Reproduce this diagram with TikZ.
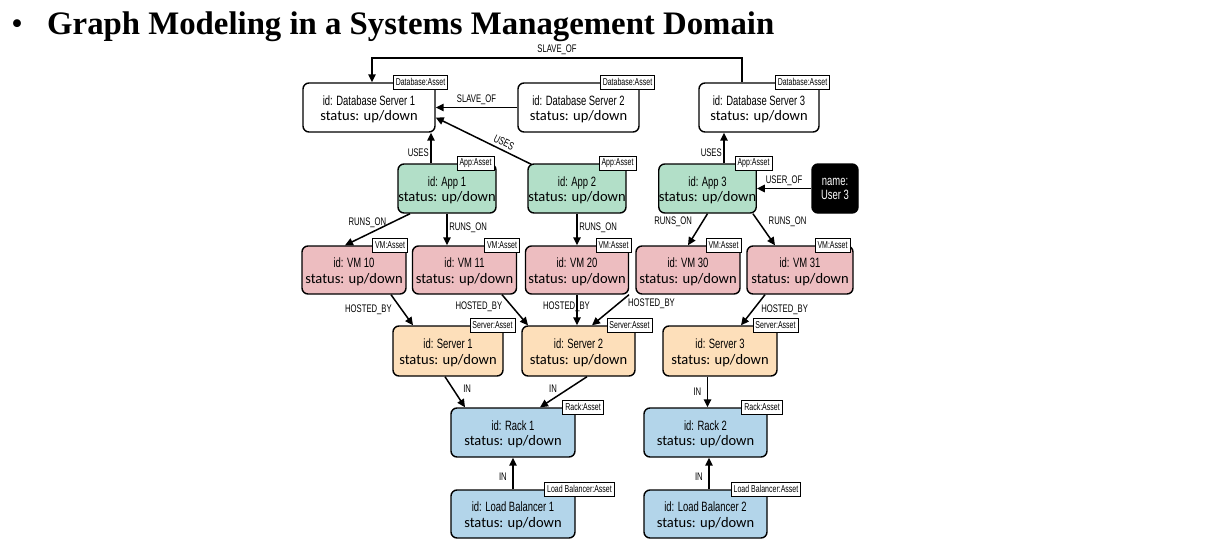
\documentclass[tikz,border=0pt]{standalone}
\usepackage{fontspec}
\setmainfont{Liberation Serif}
\newfontfamily\condf[FakeStretch=0.7]{Liberation Sans}
\newfontfamily\calf{Carlito}
\usetikzlibrary{arrows.meta,calc}
\definecolor{appc}{RGB}{178,223,200}
\definecolor{vmc}{RGB}{237,189,192}
\definecolor{srvc}{RGB}{253,223,186}
\definecolor{bluc}{RGB}{179,213,234}
\newcommand{\stf}{\calf\fontsize{14.5pt}{15.5pt}\selectfont}
\newcommand{\idf}{\condf\fontsize{13.5pt}{15.5pt}\selectfont\rule{0pt}{13.5pt}}
\newcommand{\lblf}{\condf\fontsize{11pt}{13pt}\selectfont}
\newcommand{\tagf}{\condf\fontsize{10pt}{12pt}\selectfont}
\newcommand{\usrf}{\condf\fontsize{13.5pt}{14pt}\selectfont}
\tikzset{
 box/.style={draw, line width=1.4pt, rounded corners=6pt, minimum height=49pt, inner sep=0pt, align=center, font=\stf},
 tagbox/.style={draw, line width=0.9pt, fill=white, inner xsep=2.5pt, inner ysep=2pt, minimum height=14.5pt, font=\tagf},
 arr/.style={line width=1.5pt, -{Triangle[length=8pt,width=7.5pt]}},
 lbl/.style={font=\lblf, inner sep=1.5pt},
}
\begin{document}
\begin{tikzpicture}[x=1pt,y=-1pt]
\path[use as bounding box] (0,0) rectangle (1219,551);
\node[anchor=base west, inner sep=0pt, font=\fontsize{32.8pt}{38pt}\selectfont\bfseries] (title) at (47,35) {Graph Modeling in a Systems Management Domain};
\node[anchor=base, inner sep=0pt, font=\fontsize{32.8pt}{38pt}\selectfont] (bullet) at (17,35) {•};

% database row
\node[box, fill=white, minimum width=132pt] (db1) at (369,107.5) {{\idf id: Database Server 1}\\status: up/down};
\node[box, fill=white, minimum width=121pt] (db2) at (578.5,107.5) {{\idf id: Database Server 2}\\status: up/down};
\node[box, fill=white, minimum width=120pt] (db3) at (759,107.5) {{\idf id: Database Server 3}\\status: up/down};
% app row
\node[box, fill=appc, minimum width=98pt] (app1) at (447,188.5) {{\idf id: App 1}\\status: up/down};
\node[box, fill=appc, minimum width=98pt] (app2) at (577,188.5) {{\idf id: App 2}\\status: up/down};
\node[box, fill=appc, minimum width=97pt] (app3) at (707.5,188.5) {{\idf id: App 3}\\status: up/down};
\node[box, fill=black, text=white, minimum width=46pt, font=\usrf] (user3) at (835,188.5) {name:\\User 3};
% vm row
\node[box, fill=vmc, minimum width=104pt, minimum height=48pt] (vm10) at (354,270) {{\idf id: VM 10}\\status: up/down};
\node[box, fill=vmc, minimum width=104pt, minimum height=48pt] (vm11) at (464.5,270) {{\idf id: VM 11}\\status: up/down};
\node[box, fill=vmc, minimum width=103pt, minimum height=48pt] (vm20) at (577,270) {{\idf id: VM 20}\\status: up/down};
\node[box, fill=vmc, minimum width=104pt, minimum height=48pt] (vm30) at (688,270) {{\idf id: VM 30}\\status: up/down};
\node[box, fill=vmc, minimum width=106pt, minimum height=48pt] (vm31) at (800,270) {{\idf id: VM 31}\\status: up/down};
% server row
\node[box, fill=srvc, minimum width=110pt, minimum height=50pt] (s1) at (448,351) {{\idf id: Server 1}\\status: up/down};
\node[box, fill=srvc, minimum width=113pt, minimum height=50pt] (s2) at (578.5,351) {{\idf id: Server 2}\\status: up/down};
\node[box, fill=srvc, minimum width=114pt, minimum height=50pt] (s3) at (720,351) {{\idf id: Server 3}\\status: up/down};
% rack row
\node[box, fill=bluc, minimum width=124pt] (r1) at (513,432.5) {{\idf id: Rack 1}\\status: up/down};
\node[box, fill=bluc, minimum width=123pt] (r2) at (705.5,432.5) {{\idf id: Rack 2}\\status: up/down};
% load balancer row
\node[box, fill=bluc, minimum width=124pt, minimum height=48pt] (lb1) at (513,514) {{\idf id: Load Balancer 1}\\status: up/down};
\node[box, fill=bluc, minimum width=123pt, minimum height=48pt] (lb2) at (705.5,514) {{\idf id: Load Balancer 2}\\status: up/down};

% connectors
\coordinate (topy) at (0,58);
\coordinate (c1a) at ([xshift=-17]db3.north);
\coordinate (c1b) at ([xshift=3]db1.north);
\draw[arr] (c1a) -- (c1a |- topy) -- node[lbl, above=1pt]{SLAVE\_OF} (c1b |- topy) -- (c1b);
\draw[arr] (db2.west) -- node[lbl, above=1pt]{SLAVE\_OF} (db2.west -| db1.east);
\coordinate (c3a) at ([xshift=4,yshift=-1]app2.north west);
\coordinate (c3b) at ([yshift=-10]db1.east);
\draw[arr] (c3a) -- node[lbl, sloped, above=1.5pt, pos=0.32]{USES} (c3b);
\coordinate (c4) at ([xshift=-16]app1.north);
\draw[arr] (c4) -- node[lbl, left, pos=0.35]{USES} (c4 |- db1.south);
\coordinate (c5) at ([xshift=16.5]app3.north);
\draw[arr] (c5) -- node[lbl, left, pos=0.35]{USES} (c5 |- db3.south);
\draw[arr] (user3.west) -- node[lbl, above=1pt]{USER\_OF} (user3.west -| app3.east);

\draw[arr] ([xshift=-37]app1.south) -- node[lbl, left=2pt, pos=0.3]{RUNS\_ON} ([xshift=-9]vm10.north);
\draw[arr] (app1.south) -- node[lbl, right, pos=0.45]{RUNS\_ON} (app1.south |- vm11.north);
\draw[arr] (app2.south) -- node[lbl, right, pos=0.45]{RUNS\_ON} (app2.south |- vm20.north);
\draw[arr] (app3.south) -- node[lbl, left=8pt, pos=0.27]{RUNS\_ON} (vm30.north);
\draw[arr] ([xshift=-4]app3.south east) -- node[lbl, right=8pt, pos=0.25]{RUNS\_ON} ([xshift=-25]vm31.north);

\draw[arr] ([xshift=37]vm10.south) -- node[lbl, left=8pt, pos=0.5]{HOSTED\_BY} ([xshift=-35]s1.north);
\draw[arr] ([xshift=37.5]vm11.south) -- node[lbl, left=8pt, pos=0.4]{HOSTED\_BY} ([xshift=-50.5]s2.north);
\coordinate (c14) at (vm20.south);
\draw[arr] (c14) -- node[lbl, pos=0.4, xshift=-10.5pt]{HOSTED\_BY} (c14 |- s2.north);
\draw[arr] ([xshift=-59]vm30.south) -- node[lbl, right=8pt, pos=0.3]{HOSTED\_BY} ([xshift=13.5]s2.north);
\draw[arr] ([xshift=-35]vm31.south) -- node[lbl, right=6pt, pos=0.5]{HOSTED\_BY} ([xshift=21]s3.north);

\draw[arr] ([xshift=-3]s1.south) -- node[lbl, right=8pt, pos=0.4]{IN} ([xshift=-48]r1.north);
\draw[arr] ([xshift=8.5]s2.south) -- node[lbl, left=10pt, pos=0.38]{IN} ([xshift=27]r1.north);
\coordinate (c19) at ([xshift=-12.5]s3.south);
\draw[arr] (c19) -- node[lbl, left=4pt]{IN} (c19 |- r2.north);
\draw[arr] (lb1.north) -- node[lbl, left=4pt, pos=0.4]{IN} (r1.south);
\coordinate (c21) at ([xshift=3.5]lb2.north);
\draw[arr] (c21) -- node[lbl, left=4pt, pos=0.4]{IN} (c21 |- r2.south);

% tags
\node[tagbox] (db1t) at ([xshift=51.5]db1.north) {Database:Asset};
\node[tagbox] (db2t) at ([xshift=49]db2.north) {Database:Asset};
\node[tagbox] (db3t) at ([xshift=43.5]db3.north) {Database:Asset};
\node[tagbox] (app1t) at ([xshift=28.5]app1.north) {App:Asset};
\node[tagbox] (app2t) at ([xshift=40.5]app2.north) {App:Asset};
\node[tagbox] (app3t) at ([xshift=46]app3.north) {App:Asset};
\node[tagbox] (vm10t) at ([xshift=36]vm10.north) {VM:Asset};
\node[tagbox] (vm11t) at ([xshift=37.5]vm11.north) {VM:Asset};
\node[tagbox] (vm20t) at ([xshift=36.5]vm20.north) {VM:Asset};
\node[tagbox] (vm30t) at ([xshift=35.5]vm30.north) {VM:Asset};
\node[tagbox] (vm31t) at ([xshift=32.5]vm31.north) {VM:Asset};
\node[tagbox] (s1t) at ([xshift=44.5]s1.north) {Server:Asset};
\node[tagbox] (s2t) at ([xshift=51]s2.north) {Server:Asset};
\node[tagbox] (s3t) at ([xshift=55.5]s3.north) {Server:Asset};
\node[tagbox] (r1t) at ([xshift=70]r1.north) {Rack:Asset};
\node[tagbox] (r2t) at ([xshift=56.5]r2.north) {Rack:Asset};
\node[tagbox] (lb1t) at ([xshift=66.5]lb1.north) {Load Balancer:Asset};
\node[tagbox] (lb2t) at ([xshift=60.5]lb2.north) {Load Balancer:Asset};
\end{tikzpicture}
\end{document}
